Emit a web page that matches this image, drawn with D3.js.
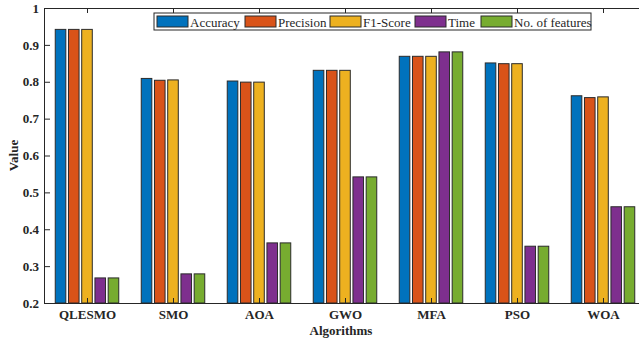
<!DOCTYPE html>
<html>
<head>
<meta charset="utf-8">
<script src="https://cdn.jsdelivr.net/npm/d3@7/dist/d3.min.js"></script>
<style>
  html, body { margin: 0; padding: 0; background: #fff; }
  svg { display: block; }
  svg text { font-family: "Liberation Serif", "Times New Roman", serif !important; }
</style>
</head>
<body>
<svg id="chart" width="639" height="341"></svg>
<script>
// Algorithms compared
const algorithms = ["QLESMO", "SMO", "AOA", "GWO", "MFA", "PSO", "WOA"];
// Metrics shown for each algorithm
const metrics = ["Accuracy", "Precision", "F1-Score", "Time", "No. of features"];
const colors = ["#0072BD", "#D95319", "#EDB120", "#7E2F8E", "#77AC30"];

// Values per metric, one entry per algorithm
const accuracy  = [0.942, 0.809, 0.802, 0.831, 0.869, 0.851, 0.762];
const precision = [0.942, 0.804, 0.799, 0.831, 0.869, 0.849, 0.757];
const f1Score   = [0.942, 0.805, 0.799, 0.831, 0.869, 0.849, 0.759];
const timeCost  = [0.268, 0.279, 0.363, 0.542, 0.881, 0.354, 0.461];
const nFeatures = [0.268, 0.279, 0.363, 0.542, 0.881, 0.354, 0.461];
const series = [accuracy, precision, f1Score, timeCost, nFeatures];

const yTicks = [0.2, 0.3, 0.4, 0.5, 0.6, 0.7, 0.8, 0.9, 1];

const FONT = "Liberation Serif";
const svg = d3.select("#chart");
const plotL = 44, plotR = 646, plotT = 8, plotB = 303;

const x = d3.scaleLinear().domain([0.5, algorithms.length + 0.5]).range([plotL, plotR]);
const y = d3.scaleLinear().domain([0.2, 1]).range([plotB, plotT]);

// grouped bar geometry (group width 5/(5+1.5), each bar fills 0.8 of its slot)
const groupW = Math.min(0.8, series.length / (series.length + 1.5));
const pitch = groupW / series.length;
const barW = pitch * 0.8;

const bars = svg.append("g");
series.forEach((vals, s) => {
  bars.selectAll(null)
    .data(vals)
    .enter()
    .append("rect")
    .attr("x", (d, i) => x(i + 1 - groupW / 2 + pitch * s + (pitch - barW) / 2))
    .attr("width", x(barW) - x(0))
    .attr("y", d => y(d))
    .attr("height", d => y(0.2) - y(d))
    .attr("fill", colors[s])
    .attr("stroke", "#2b2b2b")
    .attr("stroke-width", 1);
});

const axisColor = "#262626";

// bottom axis with ticks pointing inward
const xAxis = d3.axisBottom(x)
  .tickValues(d3.range(1, algorithms.length + 1))
  .tickFormat(d => algorithms[d - 1])
  .tickSizeInner(-5).tickSizeOuter(0).tickPadding(7);
const gx = svg.append("g").attr("transform", `translate(0,${plotB})`).call(xAxis).attr("font-family", FONT);
gx.select(".domain").attr("stroke", axisColor);
gx.selectAll(".tick line").attr("stroke", axisColor);
gx.selectAll("text").attr("font-size", 13).attr("font-weight", "bold").attr("fill", "#262626");

// top axis mirror
const xTop = d3.axisTop(x)
  .tickValues(d3.range(1, algorithms.length + 1))
  .tickFormat("")
  .tickSizeInner(-5).tickSizeOuter(0);
const gt = svg.append("g").attr("transform", `translate(0,${plotT})`).call(xTop);
gt.select(".domain").attr("stroke", axisColor);
gt.selectAll(".tick line").attr("stroke", axisColor);

// left axis
const yAxis = d3.axisLeft(y)
  .tickValues(yTicks)
  .tickFormat(d => d === 1 ? "1" : d3.format(".1f")(d))
  .tickSizeInner(-6).tickSizeOuter(0).tickPadding(5);
const gy = svg.append("g").attr("transform", `translate(${plotL},0)`).call(yAxis).attr("font-family", FONT);
gy.select(".domain").attr("stroke", axisColor);
gy.selectAll(".tick line").attr("stroke", axisColor);
gy.selectAll("text").attr("font-size", 13).attr("font-weight", "bold").attr("fill", "#262626");

// right axis mirror
const yRight = d3.axisRight(y).tickValues(yTicks).tickFormat("").tickSizeInner(-6).tickSizeOuter(0);
const gr = svg.append("g").attr("transform", `translate(${plotR},0)`).call(yRight);
gr.select(".domain").attr("stroke", axisColor);
gr.selectAll(".tick line").attr("stroke", axisColor);

// axis titles
svg.append("text")
  .attr("x", (plotL + plotR) / 2 - 4).attr("y", 335)
  .attr("text-anchor", "middle").attr("font-family", FONT)
  .attr("font-size", 13).attr("font-weight", "bold").attr("fill", "#262626")
  .text("Algorithms");
svg.append("text")
  .attr("transform", `translate(18,${(plotT + plotB) / 2}) rotate(-90)`)
  .attr("text-anchor", "middle").attr("font-family", FONT)
  .attr("font-size", 13).attr("font-weight", "bold").attr("fill", "#262626")
  .text("Value");

// legend
const legend = svg.append("g").attr("transform", "translate(154,13)");
const itemX = [3, 91, 176, 261, 327];
legend.append("rect")
  .attr("x", 0).attr("y", 0).attr("width", 437).attr("height", 17)
  .attr("fill", "#fff").attr("stroke", "#262626").attr("stroke-width", 1);
metrics.forEach((m, i) => {
  legend.append("rect")
    .attr("x", itemX[i]).attr("y", 3).attr("width", 31).attr("height", 11)
    .attr("fill", colors[i]).attr("stroke", "#2b2b2b").attr("stroke-width", 1);
  legend.append("text")
    .attr("x", itemX[i] + 33).attr("y", 13.5)
    .attr("font-family", FONT)
    .attr("font-size", 13).attr("fill", "#262626")
    .text(m);
});
</script>
</body>
</html>
